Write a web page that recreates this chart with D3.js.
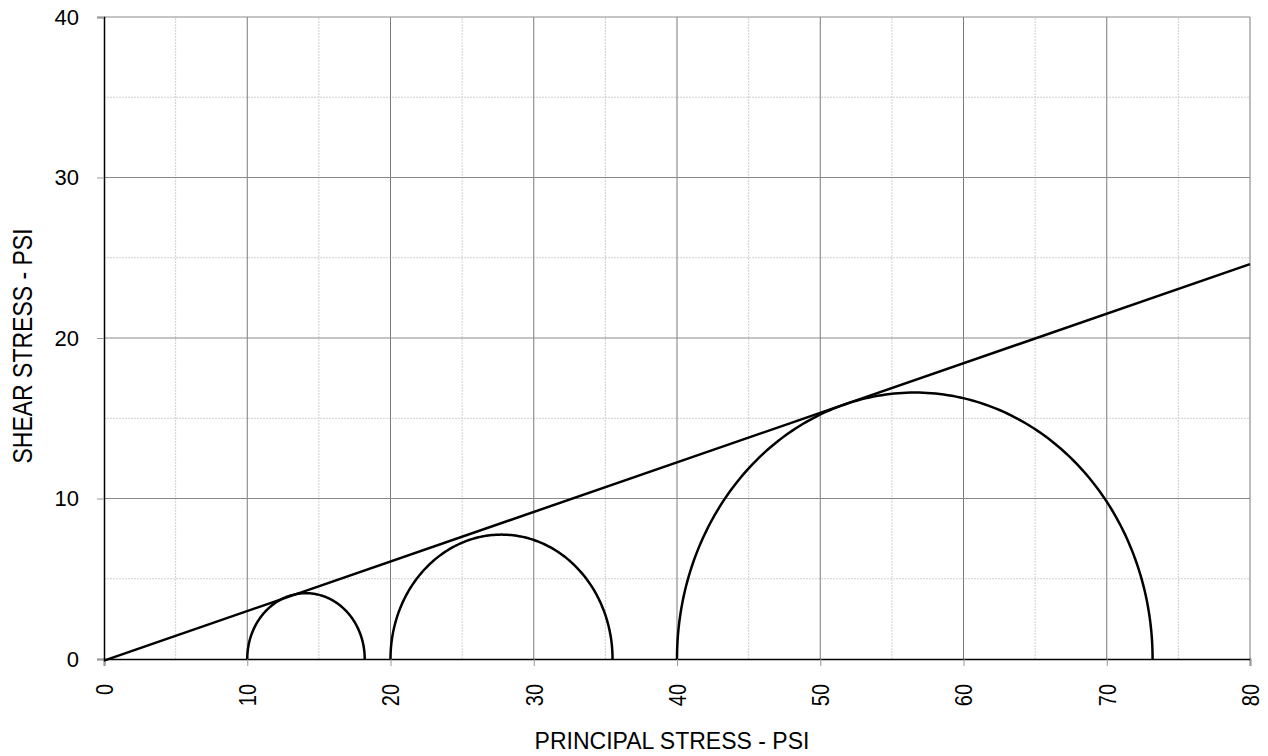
<!DOCTYPE html>
<html><head><meta charset="utf-8">
<script src="https://cdn.jsdelivr.net/npm/d3@7"></script>
<style>body{margin:0;background:#fff}svg{display:block}text{font-family:"Liberation Sans",Arial,sans-serif;fill:#000}</style>
</head><body>
<script>
const xTicks = [0,10,20,30,40,50,60,70,80];
const yTicks = [0,10,20,30,40];
const xMinor = [5,15,25,35,45,55,65,75];
const yMinor = [5,15,25,35];
// Mohr circles: [sigma3, sigma1]
const circleLeft = [10, 20, 40];
const circleRight = [18.2, 35.5, 73.2];
// failure envelope endpoints
const envX = [0, 80];
const envY = [-0.1, 24.6];

const W=1268,H=756;
const svg=d3.select("body").append("svg").attr("width",W).attr("height",H);
const x=d3.scaleLinear().domain([0,80]).range([104,1250]);
const y=d3.scaleLinear().domain([0,40]).range([659,17]);

const g=svg.append("g");
// minor grid
g.selectAll(".mx").data(xMinor).join("line").attr("x1",d=>x(d)).attr("x2",d=>x(d)).attr("y1",y(0)).attr("y2",y(40))
 .attr("stroke","#cfcfcf").attr("stroke-dasharray","2,1").attr("stroke-width",1);
g.selectAll(".my").data(yMinor).join("line").attr("y1",d=>y(d)).attr("y2",d=>y(d)).attr("x1",x(0)).attr("x2",x(80))
 .attr("stroke","#cfcfcf").attr("stroke-dasharray","2,1").attr("stroke-width",1);
// major grid
g.selectAll(".Mx").data(xTicks.slice(1)).join("line").attr("x1",d=>x(d)).attr("x2",d=>x(d)).attr("y1",y(0)).attr("y2",y(40))
 .attr("stroke","#7a7a7a").attr("stroke-width",1);
g.selectAll(".My").data(yTicks.slice(1)).join("line").attr("y1",d=>y(d)).attr("y2",d=>y(d)).attr("x1",x(0)).attr("x2",x(80))
 .attr("stroke","#8a8a8a").attr("stroke-width",1);

// axes
const xAxis=d3.axisBottom(x).tickValues(xTicks).tickSize(7).tickFormat(d3.format("d"));
const xa=svg.append("g").attr("transform",`translate(0,${y(0)})`).call(xAxis);
xa.select(".domain").attr("stroke","#000");
xa.selectAll(".tick line").attr("stroke","#999");
xa.selectAll(".tick text").attr("font-size",20).attr("font-family",null)
  .attr("transform","rotate(-90) scale(1,1.2)")
  .attr("text-anchor","end").attr("x",-25).attr("y",0).attr("dy","0.35em");

const yAxis=d3.axisLeft(y).tickValues(yTicks).tickSize(7);
const ya=svg.append("g").attr("transform",`translate(${x(0)},0)`).call(yAxis);
ya.select(".domain").attr("stroke","#000");
ya.selectAll(".tick line").attr("stroke","#999");
ya.selectAll(".tick text").attr("font-size",22).attr("font-family",null).attr("x",-25);
svg.selectAll(".domain").attr("stroke-width",1.5);

// circles (upper halves)
const circ=d3.line().x(d=>x(d[0])).y(d=>y(d[1]));
circleLeft.forEach((a,i)=>{
  const b=circleRight[i], c=(a+b)/2, r=(b-a)/2;
  const pts=d3.range(0,181,1).map(t=>{const th=Math.PI*(1-t/180);return [c+r*Math.cos(th), r*Math.sin(th)];});
  svg.append("path").attr("d",circ(pts)).attr("fill","none").attr("stroke","#000").attr("stroke-width",2.5);
});
// envelope
svg.append("path").attr("d",circ(envX.map((v,i)=>[v,envY[i]]))).attr("fill","none").attr("stroke","#000").attr("stroke-width",2.5);

// titles
svg.append("text").attr("x",672).attr("y",749).attr("text-anchor","middle").attr("font-size",23).text("PRINCIPAL STRESS - PSI");
svg.append("text").attr("transform",`translate(32,346) rotate(-90) scale(1,1.2)`).attr("text-anchor","middle").attr("font-size",23).text("SHEAR STRESS - PSI");
</script>
</body></html>
